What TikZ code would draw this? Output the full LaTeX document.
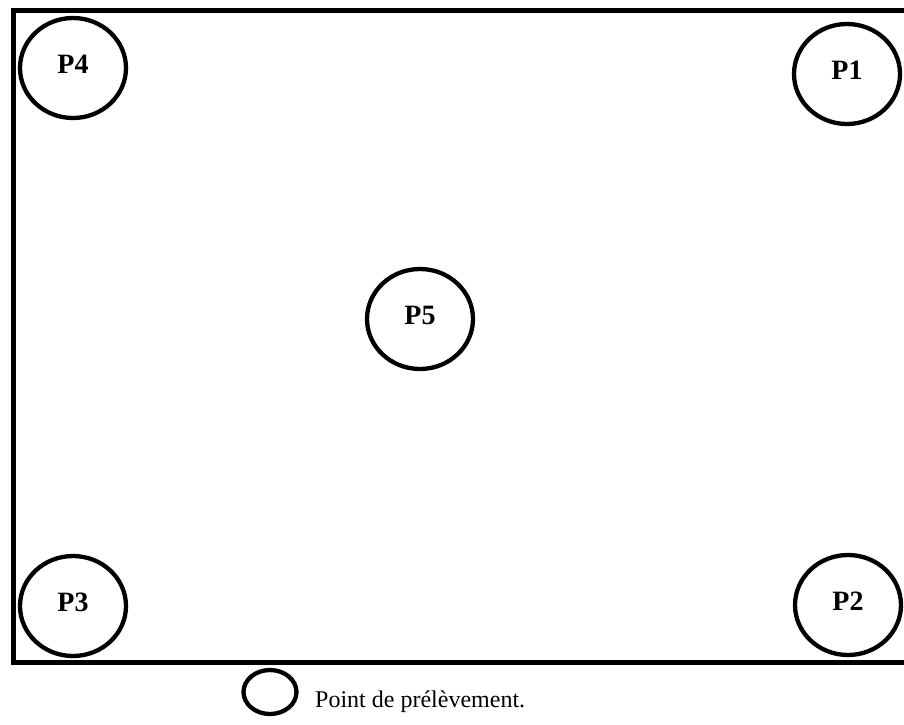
\documentclass[tikz,border=0pt]{standalone}
\usepackage{fontspec}
\setmainfont{Liberation Serif}
\usetikzlibrary{shapes.geometric}
\begin{document}
\begin{tikzpicture}[x=1pt,y=-1pt,
  pt/.style={draw,ellipse,line width=4.3pt,minimum width=106pt,minimum height=100pt,inner sep=0pt,text height=18pt,text depth=8pt,font=\fontsize{28}{30}\selectfont\bfseries},
  frame/.style={line width=5pt,line join=miter}]
\useasboundingbox (0,0) rectangle (904,724);
\coordinate (tr) at (906,10);
\coordinate (tl) at (13,10);
\coordinate (bl) at (13,662);
\coordinate (br) at (906,662);
\draw[frame] (tr) -- (tl) -- (bl) -- (br);
\node[pt] (p4) at (73,68) {P4};
\node[pt] (p1) at (847,74) {P1};
\node[pt] (p3) at (73,606) {P3};
\node[pt] (p2) at (848,605) {P2};
\node[pt] (p5) at (420,319) {P5};
\node[draw,ellipse,line width=4.3pt,minimum width=53pt,minimum height=44pt,inner sep=0pt] (leg) at (270,692) {};
\node[anchor=base west,inner sep=0pt,font=\fontsize{24}{28}\selectfont] (legt) at (315,707) {Point de prélèvement.};
\end{tikzpicture}
\end{document}
